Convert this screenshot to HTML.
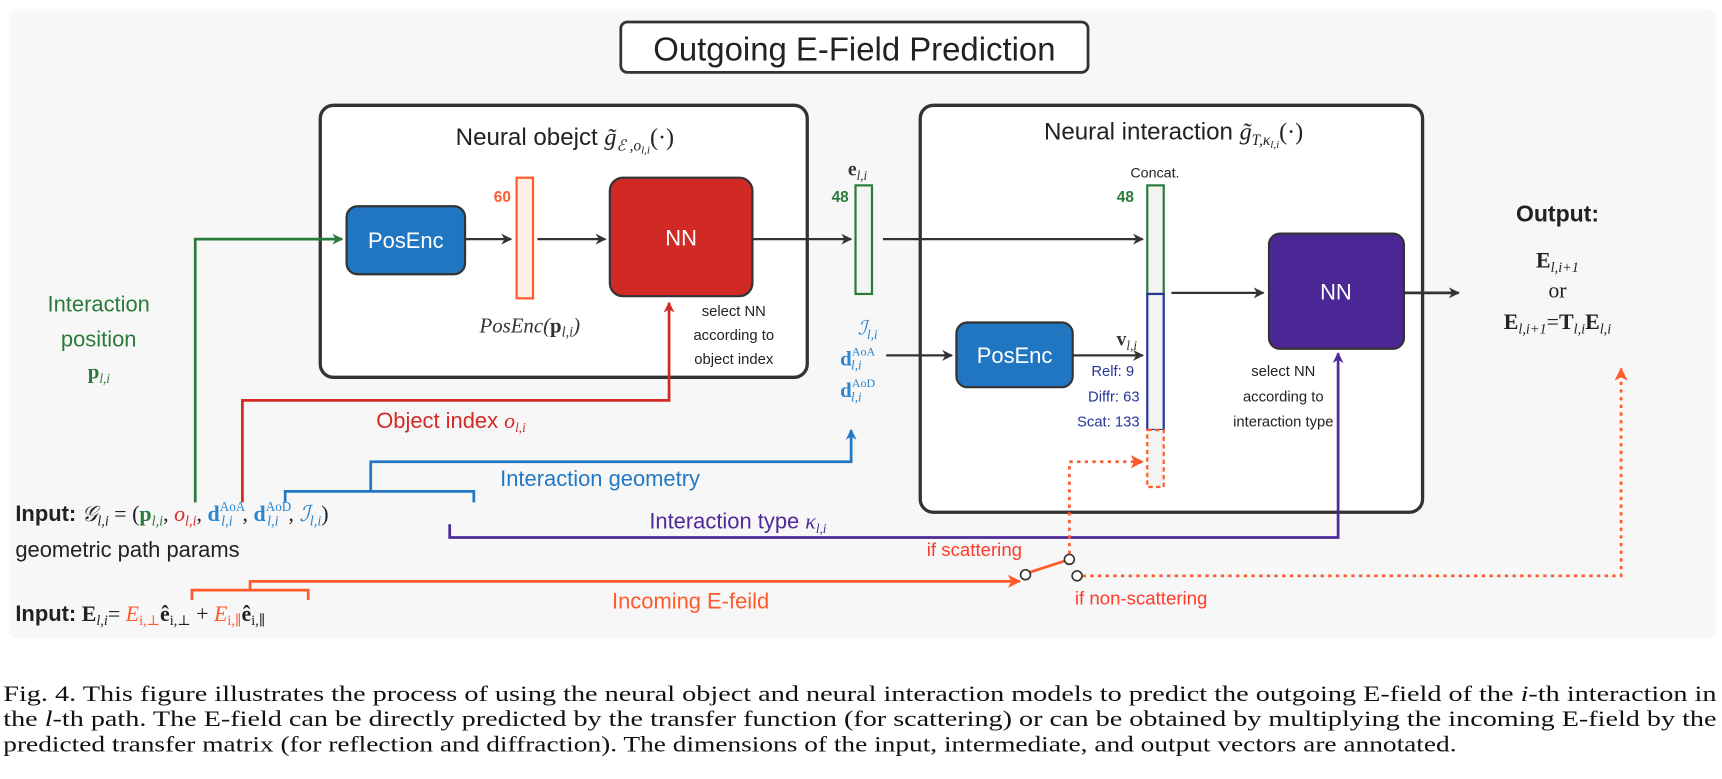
<!DOCTYPE html>
<html><head><meta charset="utf-8"><style>
html,body{margin:0;padding:0;background:#fff;}
svg{display:block;}
.s{font-family:"Liberation Sans","DejaVu Sans",sans-serif;}
.m{font-family:"Liberation Serif","DejaVu Serif",serif;}
</style></head><body>
<svg width="1722" height="779" viewBox="0 0 1570 710.2" xmlns="http://www.w3.org/2000/svg">
<defs>
<marker id="ak" markerWidth="10" markerHeight="10" refX="9" refY="5" orient="auto" markerUnits="userSpaceOnUse"><path d="M0,0 L10,5 L0,10 L3,5 Z" fill="#333"/></marker>
<marker id="ag" markerWidth="10" markerHeight="10" refX="9" refY="5" orient="auto" markerUnits="userSpaceOnUse"><path d="M0,0 L10,5 L0,10 L3,5 Z" fill="#2a7a3a"/></marker>
<marker id="ar" markerWidth="10" markerHeight="10" refX="9" refY="5" orient="auto" markerUnits="userSpaceOnUse"><path d="M0,0 L10,5 L0,10 L3,5 Z" fill="#d42a26"/></marker>
<marker id="ab" markerWidth="10" markerHeight="10" refX="9" refY="5" orient="auto" markerUnits="userSpaceOnUse"><path d="M0,0 L10,5 L0,10 L3,5 Z" fill="#2278c4"/></marker>
<marker id="ap" markerWidth="10" markerHeight="10" refX="9" refY="5" orient="auto" markerUnits="userSpaceOnUse"><path d="M0,0 L10,5 L0,10 L3,5 Z" fill="#4f2a9a"/></marker>
<marker id="ao" markerWidth="12" markerHeight="12" refX="11" refY="6" orient="auto" markerUnits="userSpaceOnUse"><path d="M0,0 L12,6 L0,12 L3,6 Z" fill="#ff5a2a"/></marker>
</defs>
<rect x="8" y="8" width="1557" height="574" rx="8" fill="#f7f7f7"/>
<rect x="566" y="20" width="426" height="46" rx="6" fill="#fff" stroke="#333" stroke-width="2.5"/>
<text x="779" y="55" class="s" font-size="30" text-anchor="middle" fill="#222">Outgoing E-Field Prediction</text>
<rect x="292" y="96" width="444" height="248" rx="12" fill="#fff" stroke="#333" stroke-width="3"/>
<text x="515" y="132" class="s" font-size="22" text-anchor="middle" fill="#222">Neural obejct <tspan class="m" font-style="italic">g̃</tspan><tspan class="m" font-style="italic" font-size="14" dy="5">ℰ ,o</tspan><tspan class="m" font-style="italic" font-size="10" dy="3">l,i</tspan><tspan class="m" dy="-8">(·)</tspan></text>
<rect x="316" y="188" width="108" height="62" rx="10" fill="#2176c1" stroke="#333" stroke-width="2"/>
<text x="370" y="226" class="s" font-size="20" text-anchor="middle" fill="#fff">PosEnc</text>
<rect x="471" y="162" width="15" height="110" fill="#fdeee8" stroke="#ff5a2a" stroke-width="2"/>
<text x="458" y="184" class="s" font-size="14" font-weight="bold" text-anchor="middle" fill="#ff5a2a">60</text>
<rect x="556" y="162" width="130" height="108" rx="12" fill="#d12a26" stroke="#333" stroke-width="2"/>
<text x="621" y="224" class="s" font-size="20" text-anchor="middle" fill="#fff">NN</text>
<text x="483" y="303" class="m" font-size="19" font-style="italic" text-anchor="middle" fill="#333">PosEnc(<tspan font-weight="bold" font-style="normal">p</tspan><tspan font-size="13" dy="4">l,i</tspan><tspan dy="-4">)</tspan></text>
<text class="s" font-size="13.5" text-anchor="middle" fill="#222"><tspan x="669" y="288">select NN</tspan><tspan x="669" y="310">according to</tspan><tspan x="669" y="332">object index</tspan></text>
<line x1="424" y1="218" x2="466" y2="218" stroke="#333" stroke-width="2" marker-end="url(#ak)"/>
<line x1="490" y1="218" x2="552" y2="218" stroke="#333" stroke-width="2" marker-end="url(#ak)"/>
<line x1="686" y1="218" x2="776" y2="218" stroke="#333" stroke-width="2" marker-end="url(#ak)"/>
<rect x="780" y="169" width="15" height="99" fill="#f2f4f2" stroke="#2a7a3a" stroke-width="2"/>
<text x="766" y="184" class="s" font-size="14" font-weight="bold" text-anchor="middle" fill="#2a7a3a">48</text>
<text x="773" y="160" class="m" font-size="18" font-weight="bold" fill="#333">e<tspan font-size="12" font-weight="normal" font-style="italic" dy="4">l,i</tspan></text>
<rect x="839" y="96" width="458" height="371" rx="12" fill="#fff" stroke="#333" stroke-width="3"/>
<line x1="805" y1="218" x2="1042" y2="218" stroke="#333" stroke-width="2" marker-end="url(#ak)"/>
<text x="1070" y="127" class="s" font-size="22" text-anchor="middle" fill="#222">Neural interaction <tspan class="m" font-style="italic">g̃</tspan><tspan class="m" font-style="italic" font-size="14" dy="5">T,κ</tspan><tspan class="m" font-style="italic" font-size="10" dy="3">l,i</tspan><tspan class="m" dy="-8">(·)</tspan></text>
<text x="1053" y="162" class="s" font-size="13" text-anchor="middle" fill="#222">Concat.</text>
<text x="1026" y="184" class="s" font-size="14" font-weight="bold" text-anchor="middle" fill="#2a7a3a">48</text>
<rect x="1046" y="169" width="15" height="99" fill="#f2f4f2" stroke="#2a7a3a" stroke-width="2"/>
<rect x="1046" y="268" width="15" height="124" fill="#f2f4f2" stroke="#25369a" stroke-width="2"/>
<rect x="1046" y="392" width="15" height="52" fill="#f2f4f2" stroke="#ff5a2a" stroke-width="2" stroke-dasharray="4,3"/>
<rect x="872" y="294" width="106" height="59" rx="10" fill="#2176c1" stroke="#333" stroke-width="2"/>
<text x="925" y="331" class="s" font-size="20" text-anchor="middle" fill="#fff">PosEnc</text>
<line x1="978" y1="324" x2="1042" y2="324" stroke="#333" stroke-width="2" marker-end="url(#ak)"/>
<text x="1018" y="315" class="m" font-size="18" font-weight="bold" fill="#333">v<tspan font-size="12" font-weight="normal" font-style="italic" dy="4">l,i</tspan></text>
<text class="s" font-size="13.5" text-anchor="end" fill="#25369a"><tspan x="1034" y="343">Relf: 9</tspan><tspan x="1039" y="366">Diffr: 63</tspan><tspan x="1039" y="389">Scat: 133</tspan></text>
<line x1="1068" y1="267" x2="1152" y2="267" stroke="#333" stroke-width="2" marker-end="url(#ak)"/>
<rect x="1157" y="213" width="123" height="105" rx="10" fill="#4b2796" stroke="#333" stroke-width="2"/>
<text x="1218" y="273" class="s" font-size="20" text-anchor="middle" fill="#fff">NN</text>
<line x1="1280" y1="267" x2="1330" y2="267" stroke="#333" stroke-width="2.5" marker-end="url(#ak)"/>
<text class="s" font-size="13.5" text-anchor="middle" fill="#222"><tspan x="1170" y="343">select NN</tspan><tspan x="1170" y="366">according to</tspan><tspan x="1170" y="389">interaction type</tspan></text>
<text x="1420" y="202" class="s" font-size="21" font-weight="bold" text-anchor="middle" fill="#222">Output:</text>
<text x="1420" y="244" class="m" font-size="20" text-anchor="middle" fill="#222"><tspan font-weight="bold">E</tspan><tspan font-style="italic" font-size="13" dy="4">l,i+1</tspan></text>
<text x="1420" y="271" class="m" font-size="20" text-anchor="middle" fill="#222">or</text>
<text x="1420" y="300" class="m" font-size="20" text-anchor="middle" fill="#222"><tspan font-weight="bold">E</tspan><tspan font-style="italic" font-size="13" dy="4">l,i+1</tspan><tspan dy="-4">=</tspan><tspan font-weight="bold">T</tspan><tspan font-style="italic" font-size="13" dy="4">l,i</tspan><tspan font-weight="bold" dy="-4">E</tspan><tspan font-style="italic" font-size="13" dy="4">l,i</tspan></text>
<text x="782" y="305" class="m" font-size="18" font-style="italic" fill="#2a86d0">ℐ<tspan font-size="12" dy="4">l,i</tspan></text>
<text x="766" y="333" class="m" font-size="19" font-weight="bold" fill="#2a86d0">d<tspan font-size="11" font-weight="normal" dy="-9">AoA</tspan><tspan font-size="12" font-weight="normal" font-style="italic" dx="-22" dy="13">l,i</tspan></text>
<text x="766" y="362" class="m" font-size="19" font-weight="bold" fill="#2a86d0">d<tspan font-size="11" font-weight="normal" dy="-9">AoD</tspan><tspan font-size="12" font-weight="normal" font-style="italic" dx="-22" dy="13">l,i</tspan></text>
<line x1="808" y1="324" x2="868" y2="324" stroke="#333" stroke-width="2" marker-end="url(#ak)"/>
<polyline points="178,458 178,218 312,218" fill="none" stroke="#2a7a3a" stroke-width="2.5" marker-end="url(#ag)"/>
<text class="s" font-size="20" text-anchor="middle" fill="#2a7a3a"><tspan x="90" y="284">Interaction</tspan><tspan x="90" y="316">position</tspan></text>
<text x="80" y="345" class="m" font-size="19" font-weight="bold" fill="#2a7a3a">p<tspan font-size="12" font-weight="normal" font-style="italic" dy="4">l,i</tspan></text>
<polyline points="221,458 221,365 610,365 610,276" fill="none" stroke="#d42a26" stroke-width="2.5" marker-end="url(#ar)"/>
<text x="343" y="390" class="s" font-size="20" fill="#d42a26">Object index <tspan class="m" font-style="italic">o</tspan><tspan class="m" font-style="italic" font-size="12" dy="4">l,i</tspan></text>
<polyline points="260,458 260,448 432,448 432,458" fill="none" stroke="#2278c4" stroke-width="2.5"/>
<polyline points="338,448 338,421 776,421 776,392" fill="none" stroke="#2278c4" stroke-width="2.5" marker-end="url(#ab)"/>
<text x="456" y="443" class="s" font-size="20" fill="#2278c4">Interaction geometry</text>
<polyline points="410,478 410,490 1220,490 1220,322" fill="none" stroke="#4f2a9a" stroke-width="2.5" marker-end="url(#ap)"/>
<text x="592" y="482" class="s" font-size="20" fill="#4f2a9a">Interaction type <tspan class="m" font-style="italic">κ</tspan><tspan class="m" font-style="italic" font-size="12" dy="4">l,i</tspan></text>
<text x="14" y="475" class="s" font-size="20" fill="#222"><tspan font-weight="bold">Input:</tspan><tspan class="m" font-style="italic"> 𝒢</tspan><tspan class="m" font-style="italic" font-size="13" dy="4">l,i</tspan><tspan class="m" dy="-4"> = (</tspan><tspan class="m" font-weight="bold" fill="#2a7a3a">p</tspan><tspan class="m" font-style="italic" font-size="13" dy="4" fill="#2a7a3a">l,i</tspan><tspan class="m" dy="-4">, </tspan><tspan class="m" font-style="italic" fill="#d42a26">o</tspan><tspan class="m" font-style="italic" font-size="13" dy="4" fill="#d42a26">l,i</tspan><tspan class="m" dy="-4">, </tspan><tspan class="m" font-weight="bold" fill="#2a86d0">d</tspan><tspan class="m" font-size="12" dy="-9" fill="#2a86d0">AoA</tspan><tspan class="m" font-size="13" font-style="italic" dy="13" dx="-22" fill="#2a86d0">l,i</tspan><tspan class="m" dy="-4" dx="9">, </tspan><tspan class="m" font-weight="bold" fill="#2a86d0">d</tspan><tspan class="m" font-size="12" dy="-9" fill="#2a86d0">AoD</tspan><tspan class="m" font-size="13" font-style="italic" dy="13" dx="-22" fill="#2a86d0">l,i</tspan><tspan class="m" dy="-4" dx="9">, </tspan><tspan class="m" font-style="italic" fill="#2a86d0">ℐ</tspan><tspan class="m" font-style="italic" font-size="13" dy="4" fill="#2a86d0">l,i</tspan><tspan class="m" dy="-4">)</tspan></text>
<text x="14" y="508" class="s" font-size="20" fill="#222">geometric path params</text>
<text x="14" y="566" class="s" font-size="20" fill="#222"><tspan font-weight="bold">Input:</tspan><tspan class="m" font-weight="bold"> E</tspan><tspan class="m" font-style="italic" font-size="13" dy="4">l,i</tspan><tspan class="m" dy="-4">= </tspan><tspan class="m" font-style="italic" fill="#ff5a2a">E</tspan><tspan class="m" font-size="13" dy="4" fill="#ff5a2a">i,⊥</tspan><tspan class="m" dy="-4" font-weight="bold">ê</tspan><tspan class="m" font-size="13" dy="4">i,⊥</tspan><tspan class="m" dy="-4"> + </tspan><tspan class="m" font-style="italic" fill="#ff5a2a">E</tspan><tspan class="m" font-size="13" dy="4" fill="#ff5a2a">i,∥</tspan><tspan class="m" dy="-4" font-weight="bold">ê</tspan><tspan class="m" font-size="13" dy="4">i,∥</tspan></text>
<polyline points="175,547 175,538 281,538 281,547" fill="none" stroke="#ff5a2a" stroke-width="2.5"/>
<polyline points="228,538 228,530 930,530" fill="none" stroke="#ff5a2a" stroke-width="2.5" marker-end="url(#ao)"/>
<text x="558" y="555" class="s" font-size="20" fill="#ff5a2a">Incoming E-feild</text>
<line x1="938" y1="522" x2="972" y2="511" stroke="#ff5a2a" stroke-width="2.5"/>
<circle cx="935" cy="524" r="4.5" fill="#fff" stroke="#333" stroke-width="1.5"/>
<circle cx="975" cy="510" r="4.5" fill="#fff" stroke="#333" stroke-width="1.5"/>
<circle cx="982" cy="525" r="4.5" fill="#fff" stroke="#333" stroke-width="1.5"/>
<polyline points="975,505 975,421 1042,421" fill="none" stroke="#ff5a2a" stroke-width="2.5" stroke-dasharray="3,4" marker-end="url(#ao)"/>
<polyline points="987,525 1478,525 1478,336" fill="none" stroke="#ff5a2a" stroke-width="2.5" stroke-dasharray="3,4" marker-end="url(#ao)"/>
<text x="845" y="507" class="s" font-size="17" fill="#ff3a2a">if scattering</text>
<text x="980" y="551" class="s" font-size="17" fill="#ff3a2a">if non-scattering</text>
<text x="3" y="639" class="m" font-size="20" fill="#111" textLength="1562" lengthAdjust="spacingAndGlyphs">Fig. 4.  This figure illustrates the process of using the neural object and neural interaction models to predict the outgoing E-field of the <tspan font-style="italic">i</tspan>-th interaction in</text>
<text x="3" y="662" class="m" font-size="20" fill="#111" textLength="1562" lengthAdjust="spacingAndGlyphs">the <tspan font-style="italic">l</tspan>-th path. The E-field can be directly predicted by the transfer function (for scattering) or can be obtained by multiplying the incoming E-field by the</text>
<text x="3" y="685" class="m" font-size="20" fill="#111" textLength="1325" lengthAdjust="spacingAndGlyphs">predicted transfer matrix (for reflection and diffraction). The dimensions of the input, intermediate, and output vectors are annotated.</text>
</svg>
</body></html>
